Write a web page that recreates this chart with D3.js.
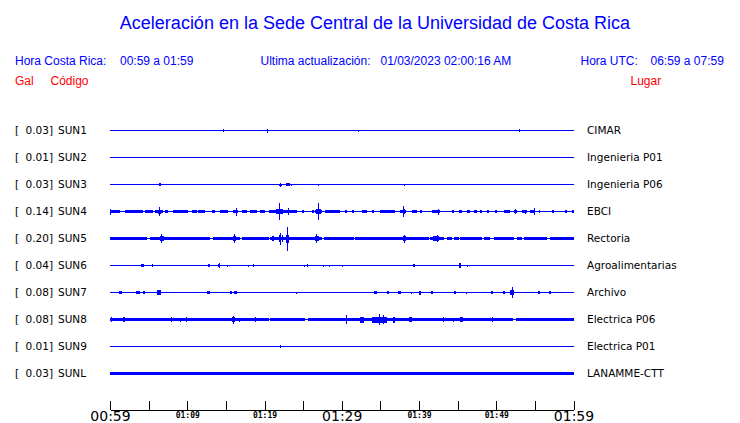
<!DOCTYPE html>
<html><head><meta charset="utf-8">
<script src="https://cdn.jsdelivr.net/npm/d3@7"></script>
<style>
html,body{margin:0;padding:0;background:#fff;}
svg{display:block;}
</style></head>
<body>
<script>
// ---------------- DATA ----------------
const title = "Aceleración en la Sede Central de la Universidad de Costa Rica";
const updated = "01/03/2023 02:00:16 AM";
const localRange = "00:59 a 01:59";
const utcRange = "06:59 a 07:59";

const stations = ["SUN1","SUN2","SUN3","SUN4","SUN5","SUN6","SUN7","SUN8","SUN9","SUNL"];
const places = ["CIMAR","Ingenieria P01","Ingenieria P06","EBCI","Rectoria","Agroalimentarias","Archivo","Electrica P06","Electrica P01","LANAMME-CTT"];
const peakGal = [0.03,0.01,0.03,0.14,0.20,0.04,0.08,0.08,0.01,0.03];

// time axis: minutes after 00:59 local
const startTime = new Date(2023,0,3,0,59);
const endTime = new Date(2023,0,3,1,59);
const tickMinutes = [0,5,10,15,20,25,30,35,40,45,50,55,60];
const tickLabels = ["00:59","","01:09","","01:19","","01:29","","01:39","","01:49","","01:59"];
const majorTicks = ["00:59","01:29","01:59"];

// continuous noise segments: [startMin, endMin, relative amplitude]
const noiseSUN4 = [[0,1.3,1.3],[1.94,4.32,1.3],[4.54,5.62,1.3],[5.83,6.91,1.3],[7.13,7.56,1.3],[8.21,10.15,1.3],[10.58,11.23,1.3],[11.45,12.31,1.3],[13.17,13.61,1.3],[14.25,15.33,1.3],[15.98,16.63,1.3],[17.06,17.71,1.3],[18.14,19.01,1.3],[19.44,20.09,1.3],[20.52,24.19,1.3],[24.84,25.05,1.3],[26.13,26.35,1.3],[26.57,27.43,1.3],[27.86,29.81,1.3],[30.45,30.67,1.3],[31.32,31.53,1.3],[32.61,33.26,1.3],[33.91,34.13,1.3],[34.99,36.93,1.3],[37.58,38.23,1.3],[39.09,39.74,1.3],[40.17,40.39,1.3],[41.68,42.76,1.3],[44.28,44.49,1.3],[45.14,45.57,1.3],[46.22,46.65,1.3],[47.08,47.52,1.3],[47.95,48.16,1.3],[48.81,49.03,1.3],[49.89,50.11,1.3],[50.97,51.84,1.3],[52.27,52.7,1.3],[53.35,54.0,1.3],[54.43,54.86,1.3],[55.51,55.72,1.3],[57.24,57.45,1.3],[58.96,59.18,1.3],[59.8,60,1.3]];
const noiseSUN5 = [[0,4.75,1.5],[5.18,12.96,1.5],[13.39,16.85,1.5],[17.06,20.52,1.5],[20.73,27.43,1.5],[27.65,31.53,1.5],[31.75,41.25,1.5],[41.47,43.2,1.5],[43.63,44.28,1.5],[44.49,45.14,1.5],[45.36,48.16,1.5],[48.38,49.24,1.5],[49.68,52.27,1.5],[52.7,53.35,1.5],[53.56,56.59,1.5],[57.02,60,1.5]];
const noiseSUN8 = [[0,20.52,1.6],[20.73,25.27,1.6],[25.57,52.19,1.6],[52.53,60,1.6]];
const noiseSUNL = [[0,60,1.5]];

// bursts: [centerMin, relative amplitude, durationMin]
const eventsSUN1 = [[14.73,1.3,0.05],[20.43,2,0.15],[32.18,1,0.05],[52.96,1.3,0.08]];
const eventsSUN2 = [];
const eventsSUN3 = [[6.48,1.3,0.25],[16.63,0.8,0.05],[22.07,2,0.12],[22.07,1,0.5],[23.02,1.3,0.45],[23.5,1,0.05],[27.0,1,0.08],[38.14,1,0.05],[42.46,0.7,0.05]];
const eventsSUN4 = [[0.09,3,0.13],[6.39,4.7,0.08],[6.39,2,0.3],[16.33,4,0.08],[16.33,1.8,0.3],[21.94,8.3,0.08],[21.94,4.5,0.25],[21.94,2.5,0.8],[23.11,3.3,0.06],[27.0,8.7,0.06],[27.0,4.5,0.2],[27.0,2.5,0.6],[38.01,5.3,0.06],[38.01,2.7,0.25],[38.01,1.8,0.6],[42.55,3,0.08],[42.55,1.8,0.45],[52.48,2.7,0.06],[53.78,2,0.06],[54.95,3.3,0.05]];
const eventsSUN5 = [[6.61,4.7,0.06],[6.61,2.5,0.4],[6.9,2.7,0.05],[16.07,4.7,0.08],[16.07,2.5,0.4],[21.08,2.5,0.3],[22.03,6,0.08],[22.03,3.5,0.3],[22.38,3.3,0.08],[22.98,12,0.06],[22.98,7,0.15],[22.98,4,0.5],[26.78,4.5,0.08],[26.78,2.8,0.5],[38.1,4,0.08],[38.1,2.4,0.45],[42.2,2.4,0.75],[42.4,3.3,0.05]];
const eventsSUN6 = [[4.23,1.3,0.43],[5.53,1.3,0.2],[10.67,0.7,0.05],[12.83,1.3,0.2],[14.13,2.3,0.1],[14.13,1.3,0.2],[15.2,1,0.05],[17.93,1,0.05],[18.57,1.3,0.05],[25.18,1,0.05],[25.57,1.3,0.05],[27.65,1,0.05],[28.42,1,0.05],[30.11,1,0.05],[39.35,1.3,0.2],[45.31,2.3,0.26],[46.22,1,0.05]];
const eventsSUN7 = [[1.38,1.3,0.43],[3.67,1.3,0.5],[4.41,1.3,0.35],[6.39,2.3,0.5],[6.39,2.7,0.1],[12.74,1.3,0.35],[15.68,1.3,0.26],[16.24,1.3,0.35],[22.2,0.7,0.05],[24.19,1,0.08],[34.38,1.3,0.35],[35.94,1.3,0.26],[37.45,1.3,0.43],[39.09,1,0.05],[40.13,2,0.15],[41.73,1.3,0.26],[44.67,1.3,0.26],[46.09,1,0.05],[49.5,1.3,0.26],[51.06,1.3,0.26],[52.05,5.3,0.1],[52.05,2.5,0.6],[55.59,1.3,0.26],[57.02,1.3,0.26]];
const eventsSUN8 = [[0.22,2.7,0.08],[1.81,2.7,0.2],[3.33,1.5,0.08],[5.92,1.3,0.05],[7.99,2.3,0.12],[9.07,2,0.1],[9.85,2.3,0.12],[11.88,1.7,0.05],[12.79,1.7,0.1],[15.94,4,0.1],[15.94,2.6,0.4],[16.76,2,0.1],[17.19,1.7,0.1],[18.88,2.5,0.15],[21.25,1.5,0.05],[29.81,1.7,0.1],[30.63,4.7,0.08],[30.63,2.5,0.2],[32.6,3,0.6],[34.88,3,1.9],[34.9,5.3,0.06],[35.42,4.7,0.06],[36.72,3,0.25],[38.88,2.3,0.4],[43.2,2.3,0.15],[44.49,2,0.1],[45.5,2.5,0.5],[49.46,2.3,0.12]];
const eventsSUN9 = [[22.07,1.3,0.05]];
const eventsSUNL = [];

// ---------------- BUILD ----------------
const noiseBy = {SUN4:noiseSUN4, SUN5:noiseSUN5, SUN8:noiseSUN8, SUNL:noiseSUNL};
const eventsBy = {SUN1:eventsSUN1,SUN2:eventsSUN2,SUN3:eventsSUN3,SUN4:eventsSUN4,SUN5:eventsSUN5,SUN6:eventsSUN6,SUN7:eventsSUN7,SUN8:eventsSUN8,SUN9:eventsSUN9,SUNL:eventsSUNL};
const rows = stations.map((s,i)=>({code:s, place:places[i], gal:peakGal[i], noise:noiseBy[s]||[], events:eventsBy[s]||[]}));

const W=740,H=423;
const BLUE="#0000ff", RED="#ff0000";
const svg = d3.select("body").append("svg").attr("width",W).attr("height",H);

const minToDate = m => new Date(startTime.getTime()+m*60000);
const x = d3.scaleTime().domain([startTime,endTime]).range([110,573.5]);
const y = d3.scaleBand().domain(stations).range([116,386]);
const amp = d3.scaleLinear().domain([-12,12]).range([12,-12]);
const cy = s => Math.round(y(s)+y.bandwidth()/2)+0.5;

// header
svg.append("text").attr("x",375).attr("y",29).attr("text-anchor","middle")
  .attr("font-family","Liberation Sans, Arial, sans-serif").attr("font-size",18).attr("fill",BLUE).text(title);
const hdr = (t,xx,yy,col,anchor) => svg.append("text").attr("x",xx).attr("y",yy)
  .attr("font-family","Liberation Sans, Arial, sans-serif").attr("font-size",12).attr("fill",col)
  .attr("text-anchor",anchor||"start").text(t);
hdr("Hora Costa Rica:",15,65,BLUE);
hdr(localRange,120,65,BLUE);
hdr("Ultima actualización:",260.5,65,BLUE);
hdr(updated,380.5,65,BLUE);
hdr("Hora UTC:",580.5,65,BLUE);
hdr(utcRange,650.5,65,BLUE);
hdr("Gal",15,85,RED);
hdr("Código",50.5,85,RED);
hdr("Lugar",630.5,85,RED);

// rows
const g = svg.selectAll("g.row").data(rows).join("g").attr("class","row");
const lab = {"font-family":"DejaVu Sans, sans-serif","font-size":10.5,"fill":"#000"};
function applyLab(sel){ for(const k in lab) sel.attr(k,lab[k]); return sel; }
applyLab(g.append("text").attr("x",15).attr("y",d=>cy(d.code)+3.5).text("["));
applyLab(g.append("text").attr("x",53).attr("y",d=>cy(d.code)+3.5).attr("text-anchor","end").text(d=>d.gal.toFixed(2)+"]"));
applyLab(g.append("text").attr("x",58).attr("y",d=>cy(d.code)+3.5).text(d=>d.code));
applyLab(g.append("text").attr("x",587).attr("y",d=>cy(d.code)+3.5).text(d=>d.place));

// baseline trace
g.append("line").attr("x1",x(startTime)).attr("x2",x(endTime))
  .attr("y1",d=>cy(d.code)).attr("y2",d=>cy(d.code))
  .attr("stroke",BLUE).attr("stroke-width",1).attr("shape-rendering","crispEdges");

// noise bands and bursts
g.each(function(d){
  const c = cy(d.code);
  d3.select(this).selectAll("rect.noise").data(d.noise).join("rect").attr("class","noise")
    .attr("x",n=>x(minToDate(n[0])))
    .attr("width",n=>Math.max(1,x(minToDate(n[1]))-x(minToDate(n[0]))))
    .attr("y",n=>c+amp(n[2]))
    .attr("height",n=>amp(-n[2])-amp(n[2]))
    .attr("fill",BLUE).attr("shape-rendering","crispEdges");
  d3.select(this).selectAll("rect.ev").data(d.events).join("rect").attr("class","ev")
    .attr("x",e=>{const w=Math.max(1,x(minToDate(e[2]))-x(startTime)); return x(minToDate(e[0]))-w/2;})
    .attr("width",e=>Math.max(1,x(minToDate(e[2]))-x(startTime)))
    .attr("y",e=>c+amp(e[1]))
    .attr("height",e=>amp(-e[1])-amp(e[1]))
    .attr("fill",BLUE).attr("shape-rendering","crispEdges");
});

// axis
const tickDates = tickMinutes.map(minToDate);
const axis = d3.axisBottom(x).tickValues(tickDates).tickSizeInner(-9).tickSizeOuter(0)
  .tickFormat((d,i)=>tickLabels[i]);
const ax = svg.append("g").attr("transform","translate(0,409.5)").call(axis);
ax.select(".domain").attr("stroke","#000").attr("shape-rendering","crispEdges");
ax.selectAll(".tick line").attr("stroke","#000").attr("shape-rendering","crispEdges");
ax.selectAll(".tick text").each(function(d,i){
  const t = d3.select(this);
  const lbl = tickLabels[i];
  t.attr("dy",null).attr("fill","#000");
  if(majorTicks.includes(lbl)){
    t.attr("y",11).attr("font-family","DejaVu Sans, sans-serif").attr("font-size",14);
  } else {
    t.attr("y",8.5).attr("font-family","DejaVu Sans Mono, monospace").attr("font-weight","bold").attr("font-size",8);
  }
});
</script>
</body></html>
